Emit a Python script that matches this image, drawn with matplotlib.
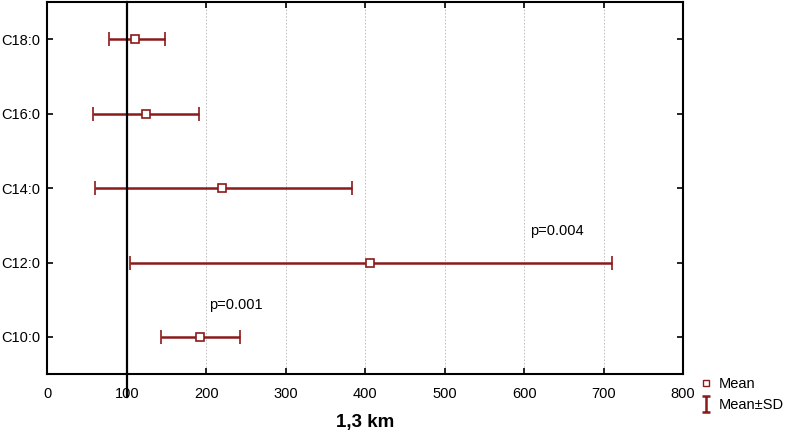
import matplotlib
matplotlib.use('Agg')
import matplotlib.pyplot as plt
from matplotlib.lines import Line2D
from matplotlib.path import Path
import numpy as np

# data (bottom to top)
acids = ['C10:0', 'C12:0', 'C14:0', 'C16:0', 'C18:0']
means = np.array([192, 406, 220, 124, 111])
sd_low = np.array([143, 104, 60, 58, 78])
sd_high = np.array([242, 711, 384, 191, 148])
p_labels = [(0, 'p=0.001', 204), (1, 'p=0.004', 607)]
ref_value = 100
xticks = [0, 100, 200, 300, 400, 500, 600, 700, 800]

red = '#8b1a1a'
plt.rcParams['font.family'] = ['Liberation Sans', 'DejaVu Sans']

fig = plt.figure(figsize=(7.87, 4.36), dpi=100)
ax = fig.add_axes([0.060, 0.142, 0.808, 0.853])

y = np.arange(len(acids))
ax.errorbar(means, y, xerr=[means - sd_low, sd_high - means], fmt='s',
            color=red, mfc='white', mec=red, mew=1.2, ms=5.5,
            elinewidth=1.8, capsize=5, capthick=1.8, zorder=3)

# reference line at 100
ax.axvline(ref_value, ymin=-0.062, ymax=1, color='black', lw=1.6,
           clip_on=False, zorder=4)

for i, txt, xpos in p_labels:
    ax.text(xpos, i + 0.43, txt, fontsize=10.5, va='center', ha='left')

ax.set_xlim(0, 800)
ax.set_ylim(-0.5, len(acids) - 0.5)
ax.set_xticks(xticks)
ax.set_yticks(y)
ax.set_yticklabels(acids)
ax.grid(axis='x', ls=(0, (2, 2)), color='#b8b8b8', lw=0.6)
ax.set_axisbelow(True)
ax.tick_params(direction='in', top=True, right=True, length=4, width=1.2,
               labelsize=10.5)
ax.tick_params(axis='x', pad=9)
ax.tick_params(axis='y', pad=5)
for s in ax.spines.values():
    s.set_linewidth(1.5)
ax.set_xlabel('1,3 km', fontsize=13.5, fontweight='bold', labelpad=10)

# legend
ibar = Path([(-0.5, -1), (0.5, -1), (0, -1), (0, 1), (-0.5, 1), (0.5, 1)],
            [Path.MOVETO, Path.LINETO, Path.MOVETO, Path.LINETO,
             Path.MOVETO, Path.LINETO])
handles = [
    Line2D([], [], ls='none', marker='s', mfc='white', mec=red, mew=1.0, ms=5),
    Line2D([], [], ls='none', marker=ibar, mfc='none', mec=red, mew=1.8, ms=12),
]
fig.legend(handles, ['Mean', 'Mean±SD'], loc='upper left',
           bbox_to_anchor=(700 / 787, 0.135), frameon=False, fontsize=10.5,
           handlelength=0.8, handletextpad=0.5, labelspacing=0.5,
           borderaxespad=0, borderpad=0)

fig.savefig('out.png', dpi=100)
